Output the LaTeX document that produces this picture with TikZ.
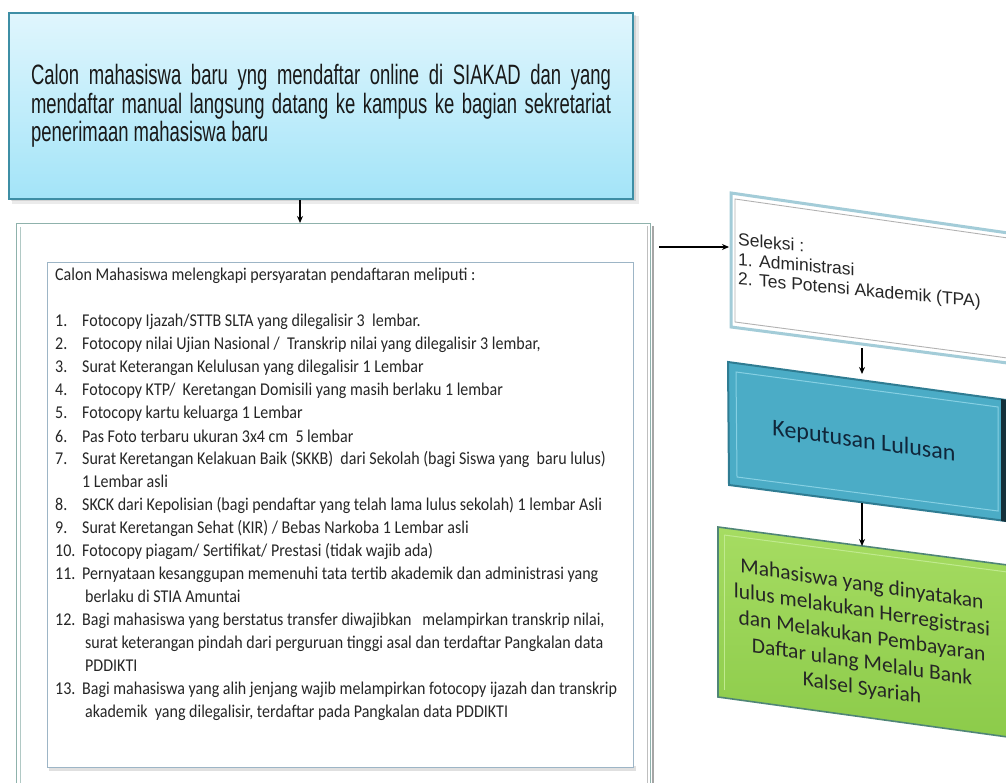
\documentclass[tikz,border=0pt]{standalone}
\usepackage{fontspec}
\setmainfont{Carlito}
\newfontfamily\agencyfont[FakeStretch=0.66]{Liberation Sans}
\newfontfamily\listfont[FakeStretch=0.89]{Carlito}
\newfontfamily\calfont{Carlito}
\newfontfamily\arialfont{Liberation Sans}
\usepackage{array}
\usetikzlibrary{arrows.meta,calc}

\definecolor{topA}{HTML}{E0F6FD}
\definecolor{topB}{HTML}{A3E4F8}
\definecolor{topEdge}{HTML}{3D8EA5}
\definecolor{bigEdge}{HTML}{8FB2AC}
\definecolor{innerEdge}{HTML}{9DB5C6}
\definecolor{selEdge}{HTML}{A3CCD8}
\definecolor{kepFill}{HTML}{4BACC6}
\definecolor{kepEdge}{HTML}{2F7C92}
\definecolor{kepLight}{HTML}{86D0E3}
\definecolor{kepDark}{HTML}{14303A}
\definecolor{kepText}{HTML}{10263A}
\definecolor{grnA}{HTML}{A6DC62}
\definecolor{grnB}{HTML}{8CCB4A}
\definecolor{grnEdge}{HTML}{4F8576}
\definecolor{grnLight}{HTML}{C0EA8E}
\definecolor{txtDark}{HTML}{262626}

\tikzset{
  arr/.style={-{Stealth[length=7pt,width=6pt]}, line width=1.4pt, black},
  topbox/.style={draw=topEdge, line width=1.6pt, top color=topA, bottom color=topB,
    minimum width=624pt, minimum height=186pt, inner sep=0pt},
  plainbox/.style={fill=white, inner sep=0pt, anchor=north west},
  skewtext/.style={inner sep=0pt}
}

\begin{document}
\begin{tikzpicture}[x=1pt,y=-1pt]
\useasboundingbox[fill=white] (0,0) rectangle (1006,783);

% ---------- top box ----------
\fill[black, opacity=0.08] (12,16) rectangle (639,204);
\fill[black, opacity=0.10] (11,15) rectangle (636,201);
\node[topbox, align=left, text=black!90,
      font=\agencyfont\fontsize{28}{28.5}\selectfont] (cal) at (321,106)
 {\makebox[580pt][s]{Calon mahasiswa baru yng mendaftar online di SIAKAD dan yang}\\
  \makebox[580pt][s]{mendaftar manual langsung datang ke kampus ke bagian sekretariat}\\
  penerimaan mahasiswa baru};

% ---------- requirements box ----------
\draw[black!35, line width=2.4pt] (653,226) -- (653,790);
\node[plainbox, draw=bigEdge, line width=1.1pt, minimum width=634pt, minimum height=600pt] (req) at (16,223) {};
\draw[black!25, line width=1pt] (647,226) -- (647,790);
\draw[bigEdge!70, line width=0.8pt] (20,227) -- (20,790);
\fill[black!12] (49,766) rectangle (636,771);
\node[plainbox, draw=innerEdge, line width=1.3pt, minimum width=586pt, minimum height=505pt] (reqin) at (47,262) {};

\node[anchor=base west, inner sep=0pt, text=txtDark,
      font=\listfont\fontsize{18}{23}\selectfont] (list) at (55,281) {%
\begin{tabular}[t]{@{}p{27pt}@{}l@{}}
\multicolumn{2}{@{}l@{}}{Calon Mahasiswa melengkapi persyaratan pendaftaran meliputi :}\\
 & \\
1. & Fotocopy Ijazah/STTB SLTA yang dilegalisir 3\ \ lembar.\\
2. & Fotocopy nilai Ujian Nasional /\ \ Transkrip nilai yang dilegalisir 3 lembar,\\
3. & Surat Keterangan Kelulusan yang dilegalisir 1 Lembar\\
4. & Fotocopy KTP/\ \ Keretangan Domisili yang masih berlaku 1 lembar\\
5. & Fotocopy kartu keluarga 1 Lembar\\
6. & Pas Foto terbaru ukuran 3x4 cm\ \ 5 lembar\\
7. & Surat Keretangan Kelakuan Baik (SKKB)\ \ dari Sekolah (bagi Siswa yang\ \ baru lulus)\\
   & 1 Lembar asli\\
8. & SKCK dari Kepolisian (bagi pendaftar yang telah lama lulus sekolah) 1 lembar Asli\\
9. & Surat Keretangan Sehat (KIR) / Bebas Narkoba 1 Lembar asli\\
10. & Fotocopy piagam/ Sertifikat/ Prestasi (tidak wajib ada)\\
11. & Pernyataan kesanggupan memenuhi tata tertib akademik dan administrasi yang\\
    & \,berlaku di STIA Amuntai\\
12. & Bagi mahasiswa yang berstatus transfer diwajibkan\ \ \ melampirkan transkrip nilai,\\
    & \,surat keterangan pindah dari perguruan tinggi asal dan terdaftar Pangkalan data\\
    & \,PDDIKTI\\
13. & Bagi mahasiswa yang alih jenjang wajib melampirkan fotocopy ijazah dan transkrip\\
    & \,akademik\ \ yang dilegalisir, terdaftar pada Pangkalan data PDDIKTI
\end{tabular}};

% ---------- Seleksi box ----------
\path[fill=white, draw=selEdge, line width=3pt]
  (731,193) -- (1015,234) -- (1015,364) -- (731,327) -- cycle;
\draw[black!30, line width=0.9pt] (1015,239) -- (735,199) -- (735,322) -- (1015,359);
\node[skewtext, yslant=-0.09, anchor=north west, align=left, text=black!85,
      font=\arialfont\fontsize{17.5}{19.5}\selectfont] (sel) at (738,233)
 {Seleksi :\\ \makebox[21pt][l]{1.}Administrasi\\ \makebox[21pt][l]{2.}Tes Potensi Akademik (TPA)};

% ---------- Keputusan box ----------
\path[fill=kepFill, draw=kepEdge, line width=2pt]
  (728,362) -- (1006,400) -- (1006,521) -- (729,485) -- cycle;
\draw[kepLight, line width=1pt] (736,372) -- (998,407) -- (998,511) -- (737,477) -- cycle;
\fill[kepDark] (1001,399) -- (1007,400) -- (1007,522) -- (1001,521) -- cycle;
\node[skewtext, yslant=-0.14, text=kepText,
      font=\calfont\fontsize{24}{28}\selectfont] (kep) at (864,442) {Keputusan Lulusan};

% ---------- green box ----------
\shade[top color=grnA, bottom color=grnB, draw=grnEdge, line width=1.6pt]
  (718,527) -- (1015,566) -- (1015,738) -- (718,697) -- cycle;
\draw[grnLight, line width=1pt] (724,535) -- (1015,573);
\draw[grnLight, line width=1pt] (724,535) -- (724,690);
\node[skewtext, yslant=-0.15, align=center, text=black!85,
      font=\calfont\fontsize{21.5}{26}\selectfont] (grn) at (862,637)
 {Mahasiswa yang dinyatakan\\ lulus melakukan Herregistrasi\\ dan Melakukan Pembayaran\\ Daftar ulang Melalu Bank\\ Kalsel Syariah};

% ---------- connectors ----------
\coordinate (reqR) at (659,247);
\coordinate (selL) at (729,247);
\coordinate (selB) at (862,348);
\coordinate (kepT) at (862,374);
\coordinate (kepB) at (862,503);
\coordinate (grnT) at (862,546);
\draw[arr] ([xshift=-21pt]cal.south) -- ([xshift=-21pt]cal.south |- req.north);
\draw[arr, line width=2pt] (reqR) -- (selL);
\draw[arr] (selB) -- (kepT);
\draw[arr] (kepB) -- (grnT);
\end{tikzpicture}
\end{document}
